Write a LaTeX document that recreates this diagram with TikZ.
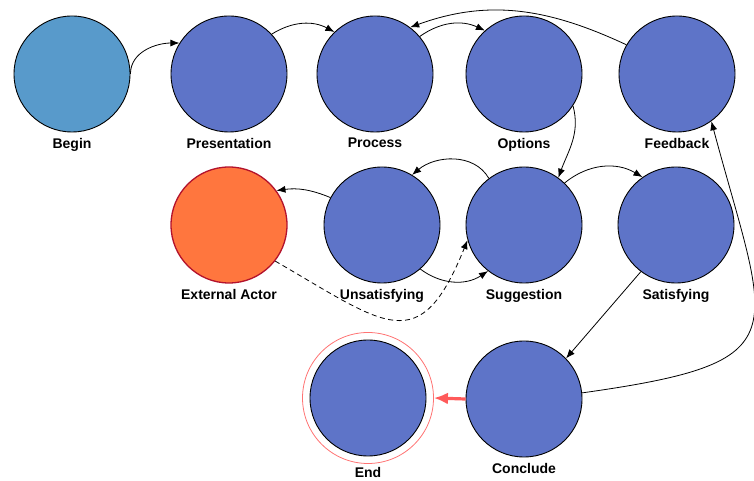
\documentclass[tikz,border=0pt]{standalone}
\usepackage{fontspec}
\setmainfont{Liberation Sans}
\usetikzlibrary{arrows.meta}
\definecolor{stateblue}{HTML}{5E74C8}
\definecolor{beginblue}{HTML}{589ACB}
\definecolor{actororange}{HTML}{FF763E}
\definecolor{actorred}{HTML}{B3122C}
\definecolor{ringred}{HTML}{FF7373}
\definecolor{arrowred}{HTML}{FF5A5A}
\begin{document}
\begin{tikzpicture}[x=1pt,y=1pt,
   state/.style={circle,draw,fill=stateblue,minimum size=116pt,inner sep=0pt,line width=0.9pt},
   lbl/.style={font=\fontsize{14}{16}\selectfont\bfseries,label distance=2pt},
   flow/.style={-{Latex[length=9pt,width=7pt]},line width=0.8pt}]
   \useasboundingbox (0,0) rectangle (754,481);
   \node[state,fill=beginblue,label={[lbl]below:Begin}] (begin) at (72,407) {};
   \foreach \n/\x/\y/\l in
     { presentation/229/407/Presentation,
       process/375/407/Process,
       options/524/407/Options,
       feedback/677/407/Feedback,
       unsatisfying/382/256/Unsatisfying,
       suggestion/524/256/Suggestion,
       satisfying/676/256/Satisfying,
       conclude/524/82/Conclude
     }
     \node[state,label={[lbl]below:\l}] (\n) at (\x,\y) {};
   \node[state,fill=actororange,draw=actorred,line width=1.3pt,
         label={[lbl]below:External Actor}] (actor) at (229,256) {};
   \node[state] (endstate) at (368,83) {};
   \node[circle,draw=ringred,minimum size=131pt,inner sep=0pt,line width=0.8pt,
         label={[lbl,label distance=0pt]below:End}] (endring) at (endstate) {};
   % transitions
   \draw[flow] (begin.east) to[out=90,in=180] (presentation.148);
   \draw[flow] (presentation.43) to[bend left=30] (process.134);
   \draw[flow] (process.40) to[bend left=30] (options.132);
   \draw[flow] (feedback.150) to[out=155,in=20] (process.53);
   \draw[flow] (options.-33) to[out=-75,in=70] (suggestion.54);
   \draw[flow] (suggestion.127) to[out=120,in=40] (unsatisfying.59);
   \draw[flow] (unsatisfying.152) to[bend right=15] (actor.36);
   \draw[flow] (unsatisfying.-49) to[bend right=35] (suggestion.232);
   \draw[flow,dash pattern=on 5pt off 3.5pt] (actor.-38)
     to[out=-30,in=-112,looseness=1.7] (suggestion.195);
   \draw[flow] (suggestion.46) to[bend left=35] (satisfying.125);
   \draw[flow] (satisfying.233) -- (conclude.44);
   \draw[flow] (conclude.6) to[out=8,in=-75,looseness=1.9] (feedback.-54);
   \draw[-{Latex[length=14pt,width=12pt]},line width=3.2pt,draw=arrowred,fill=arrowred]
     (conclude.west) -- (endring.east);
\end{tikzpicture}
\end{document}
